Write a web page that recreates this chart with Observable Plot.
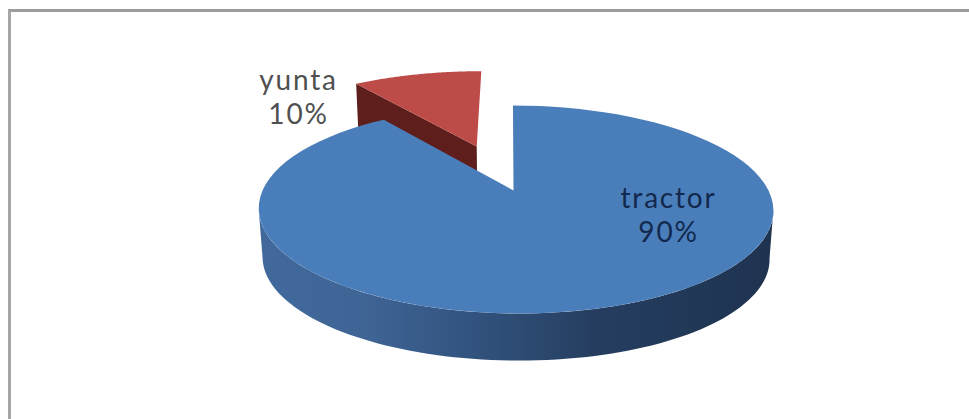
<!DOCTYPE html>
<html>
<head>
<meta charset="utf-8">
<script src="https://cdn.jsdelivr.net/npm/d3@7"></script>
<script src="https://cdn.jsdelivr.net/npm/@observablehq/plot@0.6"></script>
<style>
  html, body { margin: 0; background: #fff; }
  #chart { position: relative; width: 969px; height: 419px; overflow: hidden; }
  #chart svg { display: block; background: transparent; }
  #chart text { letter-spacing: 1.8px; }
  #frame { position: absolute; left: 8px; top: 9px; right: -4px; bottom: -4px;
           border-left: 3px solid #a6a6a6; border-top: 3px solid #9c9c9c; }
</style>
</head>
<body>
<div id="chart"><div id="frame"></div></div>
<script>
// Chart data
const categories = ["tractor", "yunta"];
const shares = [90, 10];
const explode = [0, 0.5];
const radii = [1, 1.04];
const topColors = ["#4a7ebb", "#bd4c49"];
const labelInk = ["#12294d", "#505050"];

// Perspective model of the 3D disc: (u, v) is a point on the unit circle,
// depth 0 is the top face and depth 1 the bottom face.
const cx = 515, cy = 190, sx = 253, sy = 100.5, tilt = 0.1827;
const lean = 3, hubShift = 2;
const bottomCy = 239, bottomScale = 0.985;
function project(u, v, depth = 0) {
  const w = 1 + tilt * v;
  const s = depth ? bottomScale : 1;
  const hub = hubShift * Math.min(0, u * u + v * v - 1);
  return {
    x: cx + hub - (lean * v) / w + (sx * s * u) / w,
    y: (depth ? bottomCy : cy) - (sy * s * v) / w
  };
}
const polar = (deg, r = 1) => [r * Math.sin(deg * Math.PI / 180), r * Math.cos(deg * Math.PI / 180)];
const range = (a, b, n = 90) => d3.range(n + 1).map(i => a + (b - a) * i / n);

// Slice outlines, clockwise from twelve o'clock
const total = d3.sum(shares);
let start = 0;
const slices = categories.map((name, i) => {
  const a0 = start, a1 = start + 360 * shares[i] / total;
  start = a1;
  const [ox, oy] = polar((a0 + a1) / 2, explode[i]);
  const at = (deg, r, depth) => {
    const [u, v] = polar(deg, r * radii[i]);
    return project(u + ox, v + oy, depth);
  };
  return {name, i, a0, a1, at};
});
const [tractor, yunta] = slices;

const face = s => [s.at(0, 0), ...range(s.a0, s.a1).map(a => s.at(a, 1))];

// Tractor's outer wall, between the two extreme edges of the disc
const edge = Math.acos(-tilt) * 180 / Math.PI;
const tractorWall = [
  ...range(edge, 360 - edge).map(a => tractor.at(a, 1, 0)),
  ...range(360 - edge, edge).map(a => tractor.at(a, 1, 1))
];

// Yunta's cut face that looks towards the viewer
const yuntaCut = [
  yunta.at(yunta.a0, 1, 0), yunta.at(0, 0, 0),
  yunta.at(0, 0, 1), yunta.at(yunta.a0, 1, 1)
];

const gradient = () => {
  const svg = d3.create("svg:defs");
  const g = svg.append("linearGradient").attr("id", "wall");
  [[0, "#41699b"], [0.2, "#3f6596"], [0.45, "#30507a"], [0.65, "#253e60"], [1, "#1e3350"]]
    .forEach(([o, c]) => g.append("stop").attr("offset", o).attr("stop-color", c));
  return svg.node();
};

const labels = [
  {text: `${categories[0]}\n${shares[0]}%`, x: 668, y: 214, ink: labelInk[0]},
  {text: `${categories[1]}\n${shares[1]}%`, x: 298, y: 96, ink: labelInk[1]}
];

const plot = Plot.plot({
  width: 969, height: 419,
  margin: 0,
  x: {domain: [0, 969], range: [0, 969], axis: null},
  y: {domain: [0, 419], range: [0, 419], axis: null},
  marks: [
    gradient,
    Plot.line(yuntaCut, {x: "x", y: "y", fill: "#5e1e1c", stroke: "none"}),
    Plot.line(face(yunta), {x: "x", y: "y", fill: topColors[1], stroke: "none"}),
    Plot.line(tractorWall, {x: "x", y: "y", fill: "url(#wall)", stroke: "none"}),
    Plot.line(face(tractor), {x: "x", y: "y", fill: topColors[0], stroke: "none"}),
    Plot.text(labels, {
      x: "x", y: "y", text: "text", fill: "ink",
      fontFamily: "Lato", fontSize: 28, lineHeight: 1.2
    })
  ]
});
document.getElementById("chart").appendChild(plot);
</script>
</body>
</html>
